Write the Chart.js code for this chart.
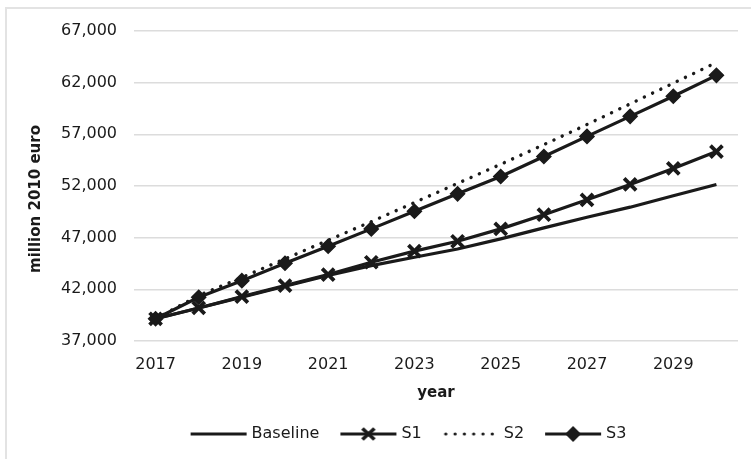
<!DOCTYPE html>
<html>
<head>
<meta charset="utf-8">
<script src="https://cdn.jsdelivr.net/npm/chart.js@4.4.1/dist/chart.umd.min.js"></script>
<style>
  html, body { margin: 0; padding: 0; background: #fff; overflow: hidden; }
  #frame { position: absolute; left: 5px; top: 7px; width: 800px; height: 500px;
           border-left: 2px solid #e3e3e3; border-top: 2px solid #e3e3e3; }
  #wrap { position: absolute; left: 0; top: 0; width: 751px; height: 459px; }
</style>
</head>
<body>
<div id="frame"></div>
<div id="wrap"><canvas id="c" width="751" height="459"></canvas></div>
<script>
const years = ['2017','2018','2019','2020','2021','2022','2023','2024','2025','2026','2027','2028','2029','2030'];
const baseline = [39150, 40200, 41250, 42300, 43350, 44300, 45100, 45900, 46880, 47950, 48980, 49950, 51050, 52150];
const s1 = [39150, 40200, 41290, 42360, 43420, 44620, 45700, 46650, 47850, 49220, 50660, 52150, 53700, 55330];
const s2 = [39150, 41400, 43150, 44950, 46750, 48550, 50400, 52250, 54100, 56000, 57950, 59950, 61950, 63950];
const s3 = [39150, 41230, 42840, 44520, 46170, 47850, 49560, 51240, 52920, 54860, 56800, 58740, 60680, 62710];
const yTicks = [37000, 42000, 47000, 52000, 57000, 62000, 67000];
const seriesNames = ['Baseline', 'S1', 'S2', 'S3'];
const yTitle = 'million 2010 euro';
const xTitle = 'year';

const INK = '#1a1a1a';
const FONT = "'DejaVu Sans', sans-serif";

function legendSample(kind) {
  const cv = document.createElement('canvas');
  cv.width = 58; cv.height = 18;
  const g = cv.getContext('2d');
  g.strokeStyle = INK; g.fillStyle = INK;
  g.lineWidth = 3.2;
  if (kind === 'dot') {
    g.lineCap = 'round';
    g.setLineDash([0.1, 9.2]);
    g.beginPath(); g.moveTo(4, 9); g.lineTo(52, 9); g.stroke();
    return cv;
  }
  g.beginPath(); g.moveTo(1, 9); g.lineTo(57, 9); g.stroke();
  if (kind === 'x') {
    g.lineWidth = 3.6;
    g.beginPath();
    g.moveTo(23, 3.5); g.lineTo(35, 14.5);
    g.moveTo(35, 3.5); g.lineTo(23, 14.5);
    g.stroke();
  } else if (kind === 'd') {
    g.beginPath();
    g.moveTo(29, 1); g.lineTo(37, 9); g.lineTo(29, 17); g.lineTo(21, 9); g.closePath();
    g.fill();
  }
  return cv;
}
const samples = [legendSample('line'), legendSample('x'), legendSample('dot'), legendSample('d')];

const titlePlugin = {
  id: 'yTitle',
  afterLayout(chart) {
    // shift the legend row to the right, as in the original figure
    if (chart.legend) { chart.legend.left += 82; }
  },
  afterDraw(chart) {
    const ctx = chart.ctx;
    ctx.save();
    ctx.translate(36, 199);
    ctx.rotate(-Math.PI / 2);
    ctx.font = "bold 15px " + FONT;
    ctx.fillStyle = INK;
    ctx.textAlign = 'center';
    ctx.textBaseline = 'middle';
    ctx.fillText(yTitle, 0, 0);
    ctx.restore();
  }
};

new Chart(document.getElementById('c'), {
  type: 'line',
  data: {
    labels: years,
    datasets: [
      { label: seriesNames[0], data: baseline, borderColor: INK, backgroundColor: INK,
        borderWidth: 3.2, pointRadius: 0, tension: 0, order: 4 },
      { label: seriesNames[1], data: s1, borderColor: INK, backgroundColor: INK,
        borderWidth: 3.2, pointStyle: 'crossRot', pointRadius: 8.5, pointBorderWidth: 3.8,
        pointBorderColor: INK, tension: 0, order: 3 },
      { label: seriesNames[2], data: s2, borderColor: INK, backgroundColor: INK,
        borderWidth: 3.4, borderDash: [0.1, 9], borderCapStyle: 'round', pointRadius: 0,
        tension: 0, order: 2 },
      { label: seriesNames[3], data: s3, borderColor: INK, backgroundColor: INK,
        borderWidth: 3.2, pointStyle: 'rectRot', pointRadius: 7, pointBorderWidth: 1.5,
        pointBorderColor: INK, pointBackgroundColor: INK, tension: 0, order: 1 }
    ]
  },
  options: {
    responsive: false,
    animation: false,
    events: [],
    layout: { padding: { top: 31, right: 13, bottom: 7, left: 0 } },
    plugins: {
      tooltip: { enabled: false },
      legend: {
        position: 'bottom',
        labels: {
          usePointStyle: true,
          pointStyleWidth: 50,
          padding: 24,
          color: INK,
          font: { family: FONT, size: 16 },
          generateLabels(chart) {
            return chart.data.datasets.map((ds, i) => ({
              text: ds.label,
              pointStyle: samples[i],
              fillStyle: INK,
              strokeStyle: INK,
              lineWidth: 0,
              hidden: false,
              datasetIndex: i,
              fontColor: INK
            }));
          }
        }
      }
    },
    scales: {
      x: {
        offset: true,
        afterFit(scale) { scale.height = 61; },
        grid: { display: false, drawTicks: false },
        border: { display: false },
        ticks: {
          autoSkip: false, maxRotation: 0, padding: 14, color: INK,
          font: { family: FONT, size: 16 },
          callback(v, i) { return i % 2 === 0 ? years[i] : ''; }
        },
        title: { display: true, text: xTitle, color: INK,
                 font: { family: FONT, size: 15, weight: 'bold' }, padding: { top: 0, bottom: 0 } }
      },
      y: {
        min: yTicks[0], max: yTicks[yTicks.length - 1],
        afterFit(scale) { scale.width = 134; },
        afterBuildTicks(scale) { scale.ticks = yTicks.map(v => ({ value: v })); },
        grid: { color: '#dcdcdc', lineWidth: 1.5, drawTicks: false },
        border: { display: false },
        ticks: {
          padding: 17, color: INK,
          font: { family: FONT, size: 16 },
          callback(v) { return v.toLocaleString('en-US'); }
        }
      }
    }
  },
  plugins: [titlePlugin]
});
</script>
</body>
</html>
